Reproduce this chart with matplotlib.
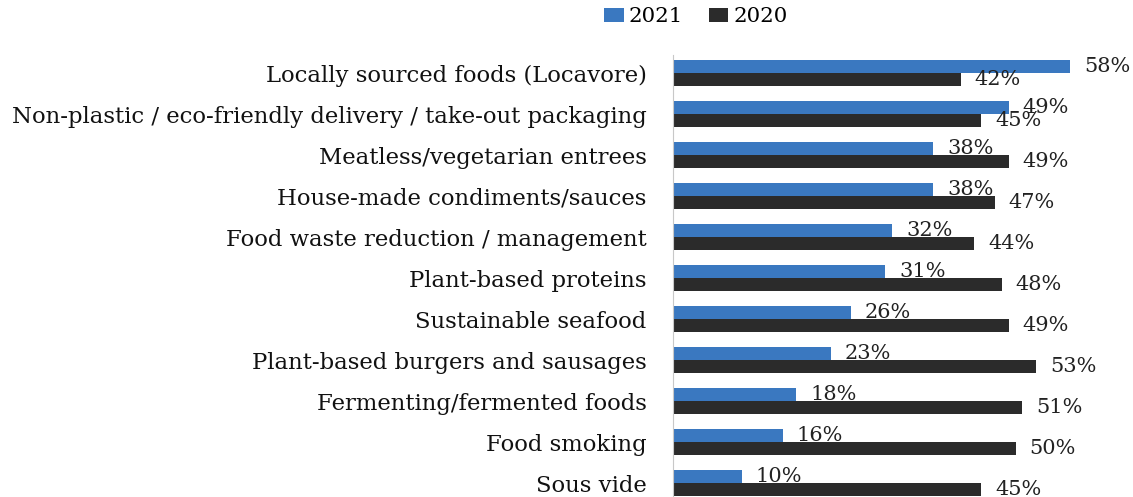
import numpy as np
import matplotlib.pyplot as plt

categories = [
    "Locally sourced foods (Locavore)",
    "Non-plastic / eco-friendly delivery / take-out packaging",
    "Meatless/vegetarian entrees",
    "House-made condiments/sauces",
    "Food waste reduction / management",
    "Plant-based proteins",
    "Sustainable seafood",
    "Plant-based burgers and sausages",
    "Fermenting/fermented foods",
    "Food smoking",
    "Sous vide",
]
vals_2021 = [58, 49, 38, 38, 32, 31, 26, 23, 18, 16, 10]
vals_2020 = [42, 45, 49, 47, 44, 48, 49, 53, 51, 50, 45]

BLUE = "#3a78c0"
DARK = "#2b2b2b"
FONT = "DejaVu Serif"

W, H = 1133, 497
fig = plt.figure(figsize=(W / 100, H / 100), dpi=100)
ax = fig.add_axes([673 / W, 0, 460 / W, 1 - 55 / H])

y = np.arange(len(categories))
bh = 0.317
b1 = ax.barh(y - bh / 2, vals_2021, height=bh, color=BLUE, label="2021")
b2 = ax.barh(y + bh / 2, vals_2020, height=bh, color=DARK, label="2020")

# value labels just past the end of each bar
for bars, vals in ((b1, vals_2021), (b2, vals_2020)):
    for rect, v in zip(bars, vals):
        ax.annotate(f"{v}%", (v, rect.get_y() + rect.get_height() / 2),
                    xytext=(10, 0), textcoords="offset points",
                    va="center", ha="left", fontsize=15, family=FONT,
                    color="#222222", annotation_clip=False)

ax.set_xlim(0, 460 / 6.85)
ax.set_ylim(10.34, -0.44)
ax.set_yticks(y)
ax.set_yticklabels(categories, family=FONT, fontsize=16.4, color="#111111")
ax.tick_params(axis="y", length=0, pad=19)
ax.set_xticks([])
for side in ("top", "right", "bottom"):
    ax.spines[side].set_visible(False)
ax.spines["left"].set_color("#c8c8c8")

fig.legend(handles=[b1, b2], labels=["2021", "2020"], loc="center",
           bbox_to_anchor=(696 / W, 1 - 17 / H), ncol=2, frameon=False,
           prop={"family": FONT, "size": 15.4}, handlelength=0.9,
           handleheight=0.6, handletextpad=0.25, columnspacing=1.2)

fig.savefig("out.png", dpi=100)
